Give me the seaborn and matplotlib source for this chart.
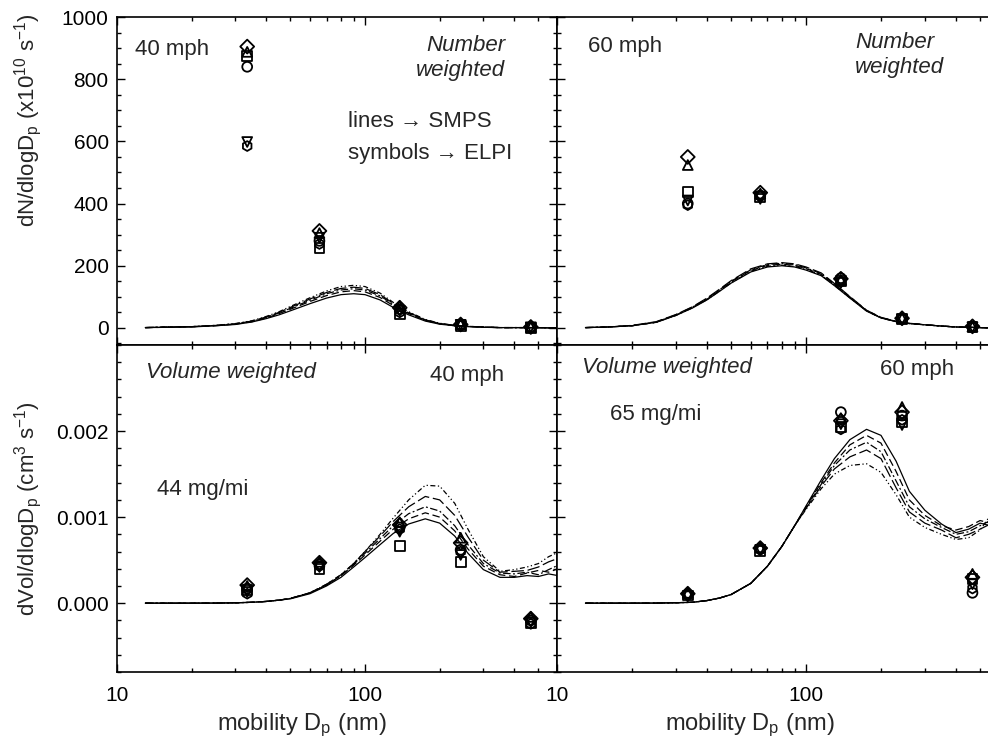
import numpy as np
import pandas as pd
import matplotlib
matplotlib.use("Agg")
import matplotlib.pyplot as plt
from matplotlib.ticker import MultipleLocator, LogLocator, NullFormatter, StrMethodFormatter
import seaborn as sns

sns.set_style("ticks")
plt.rcParams['font.family'] = ['Liberation Sans', 'DejaVu Sans']
plt.rcParams['mathtext.default'] = 'regular'

# SMPS size grid (nm)
dp_smps = [13, 16, 20, 25, 30, 35, 40, 45, 50, 60, 70, 80, 90, 100, 115, 130,
           150, 175, 200, 230, 260, 300, 350, 400, 450, 500, 550, 600]

# number weighted, 40 mph (x1e10 /s)
num40_smps = [
    [1, 2, 3, 7, 11, 19, 30, 42, 55, 78, 96, 107, 110, 107, 90, 66, 42, 22, 12, 7, 4, 2, 1, 1, 1, 1, 0, 0],
    [1, 2, 4, 7, 12, 20, 32, 46, 60, 85, 104, 116, 120, 116, 98, 72, 46, 24, 13, 7, 5, 2, 1, 1, 1, 1, 0, 0],
    [1, 3, 4, 8, 13, 21, 34, 48, 63, 89, 110, 122, 126, 122, 103, 76, 48, 25, 14, 8, 5, 3, 1, 1, 1, 1, 0, 0],
    [1, 3, 4, 8, 13, 22, 35, 50, 66, 93, 114, 127, 131, 127, 107, 79, 50, 26, 14, 8, 5, 3, 1, 1, 1, 1, 0, 0],
    [1, 3, 4, 8, 14, 23, 37, 52, 69, 97, 119, 133, 137, 133, 112, 82, 52, 27, 15, 8, 5, 3, 1, 1, 1, 1, 0, 0],
]
# number weighted, 60 mph
num60_smps = [
    [1, 3, 7, 18, 40, 64, 90, 118, 144, 180, 196, 200, 196, 186, 168, 136, 96, 54, 32, 20, 14, 10, 6, 3, 2, 1, 0, 0],
    [1, 3, 7, 18, 41, 66, 92, 121, 148, 185, 201, 205, 201, 191, 172, 139, 98, 55, 33, 21, 14, 10, 6, 3, 2, 1, 0, 0],
    [1, 3, 7, 19, 42, 67, 94, 123, 150, 187, 204, 208, 204, 193, 175, 141, 100, 56, 33, 21, 15, 10, 6, 3, 2, 1, 0, 0],
    [1, 3, 8, 20, 43, 68, 96, 125, 152, 190, 206, 210, 206, 196, 177, 143, 101, 57, 34, 21, 15, 10, 6, 3, 2, 1, 0, 0],
    [1, 3, 7, 18, 40, 65, 91, 119, 145, 182, 198, 202, 198, 188, 170, 137, 97, 55, 32, 20, 14, 10, 6, 3, 2, 1, 0, 0],
]
# volume weighted, 40 mph (units of 1e-4 cm3/s)
vol40_smps = [
    [0, 0, 0, 0.01, 0.04, 0.1, 0.2, 0.35, 0.5, 1.1, 2.0, 3.0, 4.2, 5.3, 6.8, 8.1, 9.2, 9.8, 9.3, 7.8, 5.8, 3.9, 3.0, 3.0, 3.2, 3.1, 3.4, 3.2],
    [0, 0, 0, 0.01, 0.04, 0.1, 0.2, 0.35, 0.55, 1.2, 2.1, 3.2, 4.4, 5.6, 7.2, 8.6, 9.8, 10.5, 10.0, 8.4, 6.3, 4.3, 3.3, 3.1, 3.5, 3.8, 3.6, 4.0],
    [0, 0, 0, 0.01, 0.04, 0.1, 0.2, 0.35, 0.55, 1.2, 2.1, 3.2, 4.5, 5.8, 7.5, 9.0, 10.4, 11.2, 10.7, 9.0, 6.8, 4.6, 3.5, 3.4, 3.6, 3.3, 3.9, 4.4],
    [0, 0, 0, 0.01, 0.04, 0.1, 0.2, 0.35, 0.55, 1.2, 2.2, 3.3, 4.6, 6.0, 7.8, 9.5, 11.2, 12.4, 12.0, 10.2, 7.7, 5.0, 3.6, 3.7, 3.8, 4.2, 4.8, 5.2],
    [0, 0, 0, 0.01, 0.04, 0.1, 0.2, 0.35, 0.55, 1.2, 2.2, 3.3, 4.6, 6.0, 8.0, 9.9, 12.0, 13.7, 13.6, 11.6, 8.6, 5.4, 3.7, 3.9, 4.2, 4.6, 5.4, 5.9],
]
# volume weighted, 60 mph (units of 1e-4 cm3/s)
vol60_smps = [
    [0, 0, 0, 0.01, 0.05, 0.1, 0.3, 0.6, 1.0, 2.3, 4.3, 6.6, 9.0, 11.3, 14.3, 16.8, 19.0, 20.2, 19.5, 16.5, 13.0, 10.8, 9.2, 8.2, 8.6, 9.3, 9.0, 9.5],
    [0, 0, 0, 0.01, 0.05, 0.1, 0.3, 0.6, 1.0, 2.3, 4.3, 6.6, 9.0, 11.2, 14.0, 16.3, 18.4, 19.5, 18.6, 15.3, 12.0, 10.2, 9.0, 8.5, 8.9, 9.6, 9.3, 9.0],
    [0, 0, 0, 0.01, 0.05, 0.1, 0.3, 0.6, 1.0, 2.3, 4.3, 6.6, 9.0, 11.1, 13.8, 16.0, 17.8, 18.7, 17.6, 14.2, 11.2, 9.8, 8.8, 8.0, 8.3, 9.0, 9.6, 10.0],
    [0, 0, 0, 0.01, 0.05, 0.1, 0.3, 0.6, 1.0, 2.3, 4.3, 6.6, 9.0, 11.0, 13.6, 15.6, 17.0, 17.8, 16.8, 13.4, 10.6, 9.3, 8.5, 7.6, 8.0, 8.6, 9.2, 8.8],
    [0, 0, 0, 0.01, 0.05, 0.1, 0.3, 0.6, 1.0, 2.3, 4.3, 6.6, 9.0, 10.9, 13.3, 15.0, 16.0, 16.2, 15.2, 12.6, 10.0, 8.8, 8.0, 7.4, 7.6, 8.5, 10.2, 10.8],
]

# ELPI stage diameters (nm) and symbols
dp_elpi = [33.5, 65.5, 138, 243, 466]
elpi_markers = ['o', 's', '^', 'v', 'D', 'h']

num40_elpi = [
    [840, 280, 60, 9, 2],
    [875, 258, 45, 7, 1],
    [888, 305, 70, 12, 3],
    [598, 290, 55, 10, 2],
    [905, 312, 65, 11, 3],
    [585, 270, 50, 8, 1],
]
num60_elpi = [
    [400, 425, 160, 30, 3],
    [437, 420, 150, 28, 2],
    [524, 432, 155, 32, 4],
    [410, 415, 145, 27, 2],
    [550, 435, 158, 31, 5],
    [395, 428, 148, 29, 3],
]
vol40_elpi = [
    [1.7, 4.5, 8.8, 6.2, -2.0],
    [1.5, 4.0, 6.6, 4.8, -2.3],
    [2.0, 4.8, 9.4, 7.6, -1.6],
    [1.3, 4.2, 8.3, 5.6, -2.2],
    [2.1, 4.7, 9.1, 7.0, -1.8],
    [1.1, 4.3, 8.6, 6.0, -2.4],
]
vol60_elpi = [
    [1.0, 6.3, 22.2, 21.8, 1.2],
    [0.9, 6.1, 20.5, 21.0, 2.8],
    [1.2, 6.5, 21.5, 22.8, 3.4],
    [0.8, 6.2, 20.8, 20.7, 2.2],
    [1.1, 6.4, 21.2, 22.2, 3.0],
    [1.0, 6.2, 20.2, 21.3, 1.7],
]
vol_unit = 1e-4

line_dashes = ["", (6, 3), (6, 2, 1.5, 2), (10, 3), (4, 2, 1, 2, 1, 2)]


def long_frame(x, runs, scale=1.0):
    parts = []
    for i, vals in enumerate(runs):
        parts.append(pd.DataFrame({'dp': x, 'val': np.array(vals) * scale, 'run': 'r%d' % i}))
    return pd.concat(parts, ignore_index=True)


def draw(ax, smps, elpi, scale=1.0):
    sdf = long_frame(dp_smps, smps, scale)
    edf = long_frame(dp_elpi, elpi, scale)
    sns.lineplot(data=sdf, x='dp', y='val', style='run', dashes=line_dashes,
                 color='black', lw=0.9, legend=False, estimator=None, sort=False, ax=ax)
    sns.scatterplot(data=edf, x='dp', y='val', style='run', markers=elpi_markers,
                    s=50, facecolor='none', edgecolor='black', linewidth=1.3,
                    legend=False, ax=ax, zorder=3)
    ax.set_xscale('log')
    ax.xaxis.set_major_locator(LogLocator(base=10))
    ax.xaxis.set_minor_locator(LogLocator(base=10, subs=np.arange(2, 10)))
    ax.xaxis.set_major_formatter(StrMethodFormatter('{x:g}'))
    ax.xaxis.set_minor_formatter(NullFormatter())
    ax.set_xlabel('')
    ax.set_ylabel('')
    ax.tick_params(which='both', direction='in', top=True, right=True,
                   labelsize=15, width=1, colors='black')
    ax.tick_params(which='major', length=6)
    ax.tick_params(which='minor', length=3)
    ax.tick_params(axis='y', pad=6)
    ax.tick_params(axis='x', pad=10)
    for sp in ax.spines.values():
        sp.set_linewidth(1.2)
        sp.set_color('black')


fig = plt.figure(figsize=(9.88, 7.51), dpi=100)
ax_tl = fig.add_axes([0.1184, 0.5406, 0.4453, 0.4367])
ax_tr = fig.add_axes([0.5638, 0.5406, 0.4362, 0.4367])
ax_bl = fig.add_axes([0.1184, 0.1052, 0.4453, 0.4354])
ax_br = fig.add_axes([0.5638, 0.1052, 0.4362, 0.4354])

draw(ax_tl, num40_smps, num40_elpi)
draw(ax_tr, num60_smps, num60_elpi)
draw(ax_bl, vol40_smps, vol40_elpi, vol_unit)
draw(ax_br, vol60_smps, vol60_elpi, vol_unit)

for ax in (ax_tl, ax_bl):
    ax.set_xlim(10, 594)
for ax in (ax_tr, ax_br):
    ax.set_xlim(10, 538)
    ax.spines['right'].set_visible(False)
    ax.tick_params(which='both', right=False, labelleft=False)

for ax in (ax_tl, ax_tr):
    ax.set_ylim(-55, 1000)
    ax.yaxis.set_major_locator(MultipleLocator(200))
    ax.yaxis.set_minor_locator(MultipleLocator(50))
    ax.tick_params(labelbottom=False)

for ax in (ax_bl, ax_br):
    ax.set_ylim(-0.0008, 0.003)
    ax.set_yticks([0, 0.001, 0.002])
    ax.yaxis.set_minor_locator(MultipleLocator(0.0002))
    ax.yaxis.set_major_formatter(StrMethodFormatter('{x:.3f}'))

ax_tl.set_ylabel('dN/dlogD$_p$ (x10$^{10}$ s$^{-1}$)', fontsize=16)
ax_tl.yaxis.set_label_coords(-0.165, 0.686)
ax_bl.set_ylabel('dVol/dlogD$_p$ (cm$^3$ s$^{-1}$)', fontsize=16)
ax_bl.yaxis.set_label_coords(-0.165, 0.5)
ax_bl.set_xlabel('mobility D$_p$ (nm)', fontsize=17)
ax_bl.xaxis.set_label_coords(0.42, -0.12)
ax_br.set_xlabel('mobility D$_p$ (nm)', fontsize=17)
ax_br.xaxis.set_label_coords(0.448, -0.12)

fs = 16
ax_tl.text(0.042, 0.90, '40 mph', transform=ax_tl.transAxes, fontsize=fs, va='center')
ax_tl.text(0.882, 0.875, 'Number\nweighted', transform=ax_tl.transAxes, fontsize=fs,
           style='italic', ha='right', va='center')
ax_tl.text(0.525, 0.68, 'lines \u2192 SMPS', transform=ax_tl.transAxes, fontsize=fs, va='center')
ax_tl.text(0.525, 0.585, 'symbols \u2192 ELPI', transform=ax_tl.transAxes, fontsize=fs, va='center')

ax_tr.text(0.072, 0.909, '60 mph', transform=ax_tr.transAxes, fontsize=fs, va='center')
ax_tr.text(0.691, 0.884, 'Number\nweighted', transform=ax_tr.transAxes, fontsize=fs,
           style='italic', ha='left', va='center')

ax_bl.text(0.066, 0.917, 'Volume weighted', transform=ax_bl.transAxes, fontsize=fs,
           style='italic', va='center')
ax_bl.text(0.711, 0.908, '40 mph', transform=ax_bl.transAxes, fontsize=fs, va='center')
ax_bl.text(0.091, 0.557, '44 mg/mi', transform=ax_bl.transAxes, fontsize=fs, va='center')

ax_br.text(0.058, 0.93, 'Volume weighted', transform=ax_br.transAxes, fontsize=fs,
           style='italic', va='center')
ax_br.text(0.749, 0.924, '60 mph', transform=ax_br.transAxes, fontsize=fs, va='center')
ax_br.text(0.123, 0.786, '65 mg/mi', transform=ax_br.transAxes, fontsize=fs, va='center')

fig.savefig('out.png', dpi=100, facecolor='white')
